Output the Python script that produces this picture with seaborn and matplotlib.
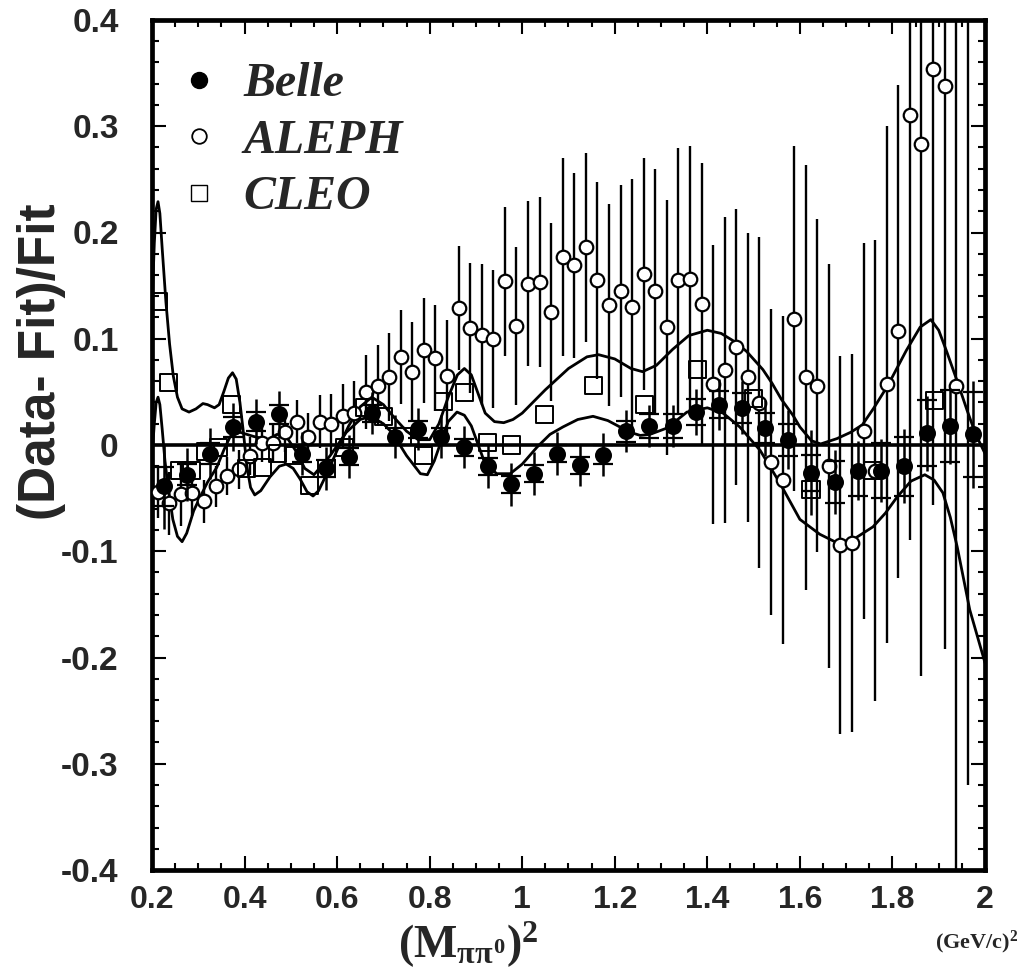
import numpy as np
import pandas as pd
import matplotlib
matplotlib.use("Agg")
import matplotlib.pyplot as plt
import seaborn as sns
from matplotlib.lines import Line2D

# ---------------- data ----------------
belle_x = [0.225, 0.275, 0.325, 0.375, 0.425, 0.475, 0.525, 0.575, 0.625, 0.675,
           0.725, 0.775, 0.825, 0.875, 0.925, 0.975, 1.025, 1.075, 1.125, 1.175,
           1.225, 1.275, 1.325, 1.375, 1.425, 1.475, 1.525, 1.575, 1.625, 1.675,
           1.725, 1.775, 1.825, 1.875, 1.925, 1.975]
belle_y = [-0.039, -0.028, -0.008, 0.017, 0.022, 0.029, -0.008, -0.022, -0.011, 0.030,
           0.008, 0.015, 0.008, -0.002, -0.020, -0.037, -0.027, -0.008, -0.019, -0.009,
           0.013, 0.018, 0.018, 0.031, 0.038, 0.035, 0.016, 0.005, -0.026, -0.035,
           -0.024, -0.024, -0.020, 0.011, 0.018, 0.010]
belle_tot = [0.040, 0.025, 0.024, 0.023, 0.021, 0.022, 0.020, 0.020, 0.020, 0.020,
             0.020, 0.020, 0.020, 0.020, 0.020, 0.020, 0.020, 0.020, 0.020, 0.020,
             0.020, 0.020, 0.020, 0.022, 0.024, 0.025, 0.026, 0.028, 0.040, 0.030,
             0.028, 0.030, 0.035, 0.035, 0.036, 0.050]
belle_stat = [0.018, 0.010, 0.010, 0.009, 0.009, 0.009, 0.008, 0.008, 0.008, 0.008,
              0.008, 0.008, 0.008, 0.008, 0.008, 0.008, 0.008, 0.008, 0.008, 0.009,
              0.010, 0.011, 0.011, 0.012, 0.013, 0.014, 0.014, 0.015, 0.017, 0.020,
              0.024, 0.026, 0.028, 0.031, 0.034, 0.040]

aleph_x = [0.2125 + 0.025 * i for i in range(71)]
aleph_y = [-0.044, -0.055, -0.046, -0.045, -0.053, -0.039, -0.029, -0.023, -0.010, 0.002,
           0.002, 0.012, 0.022, 0.008, 0.022, 0.020, 0.027, 0.030, 0.050, 0.056,
           0.064, 0.083, 0.069, 0.089, 0.082, 0.065, 0.129, 0.110, 0.104, 0.100,
           0.154, 0.112, 0.152, 0.153, 0.125, 0.177, 0.169, 0.186, 0.155, 0.132,
           0.145, 0.130, 0.161, 0.145, 0.111, 0.155, 0.156, 0.133, 0.057, 0.071,
           0.092, 0.064, 0.040, -0.016, -0.033, 0.119, 0.064, 0.056, -0.020, -0.094,
           -0.092, 0.013, -0.024, 0.057, 0.107, 0.311, 0.283, 0.354, 0.338, 0.056,
           0.450]
aleph_err = [0.025, 0.030, 0.030, 0.022, 0.020, 0.019, 0.018, 0.018, 0.018, 0.018,
             0.018, 0.019, 0.020, 0.022, 0.025, 0.028, 0.030, 0.030, 0.035, 0.038,
             0.041, 0.044, 0.047, 0.049, 0.050, 0.053, 0.058, 0.061, 0.066, 0.065,
             0.070, 0.074, 0.078, 0.080, 0.084, 0.093, 0.087, 0.089, 0.093, 0.095,
             0.100, 0.120, 0.109, 0.115, 0.120, 0.125, 0.125, 0.132, 0.131, 0.144,
             0.130, 0.136, 0.156, 0.144, 0.154, 0.162, 0.200, 0.157, 0.190, 0.178,
             0.178, 0.177, 0.217, 0.243, 0.232, 0.400, 0.500, 0.410, 0.530, 0.500,
             0.770]

cleo_x = [0.213, 0.235, 0.260, 0.286, 0.315, 0.343, 0.372, 0.405, 0.438, 0.472,
          0.505, 0.541, 0.578, 0.617, 0.660, 0.700, 0.742, 0.786, 0.829, 0.876,
          0.926, 0.976, 1.049, 1.155, 1.265, 1.378, 1.499, 1.624, 1.756, 1.890]
cleo_y = [0.135, 0.059, -0.024, -0.024, -0.006, -0.002, 0.038, -0.022, -0.021, -0.008,
          -0.010, -0.038, -0.022, -0.002, 0.035, 0.027, 0.008, -0.010, 0.041, 0.049,
          0.002, 0.000, 0.029, 0.056, 0.038, 0.071, 0.044, -0.042, -0.024, 0.042]

curve1_x = [0.200, 0.205, 0.209, 0.213, 0.217, 0.222, 0.230, 0.238, 0.246, 0.255,
            0.265, 0.280, 0.295, 0.310, 0.320, 0.335, 0.345, 0.355, 0.365, 0.374,
            0.382, 0.390, 0.398, 0.405, 0.413, 0.422, 0.435, 0.455, 0.475, 0.490,
            0.505, 0.520, 0.535, 0.548, 0.560, 0.580, 0.600, 0.625, 0.650, 0.675,
            0.700, 0.725, 0.750, 0.775, 0.800, 0.820, 0.840, 0.860, 0.875, 0.890,
            0.905, 0.920, 0.940, 0.960, 0.980, 1.000, 1.050, 1.100, 1.140, 1.165,
            1.200, 1.235, 1.260, 1.290, 1.325, 1.360, 1.400, 1.430, 1.460, 1.485,
            1.520, 1.540, 1.560, 1.585, 1.600, 1.625, 1.645, 1.680, 1.710, 1.735,
            1.760, 1.790, 1.830, 1.860, 1.883, 1.900, 1.918, 1.940, 1.961, 1.980,
            2.000]
curve1_y = [0.130, 0.190, 0.222, 0.229, 0.218, 0.185, 0.135, 0.095, 0.065, 0.045,
            0.034, 0.031, 0.034, 0.039, 0.038, 0.035, 0.038, 0.050, 0.063, 0.068,
            0.062, 0.040, 0.010, -0.020, -0.040, -0.047, -0.043, -0.030, -0.020, -0.018,
            -0.022, -0.032, -0.044, -0.048, -0.043, -0.025, -0.005, 0.018, 0.036, 0.045,
            0.038, 0.025, 0.013, 0.005, 0.005, 0.020, 0.045, 0.066, 0.072, 0.066,
            0.048, 0.030, 0.022, 0.021, 0.024, 0.030, 0.052, 0.072, 0.083, 0.085,
            0.081, 0.072, 0.069, 0.075, 0.090, 0.103, 0.108, 0.105, 0.097, 0.088,
            0.071, 0.058, 0.043, 0.028, 0.017, 0.004, 0.001, 0.006, 0.012, 0.019,
            0.035, 0.056, 0.089, 0.111, 0.118, 0.108, 0.087, 0.060, 0.033, 0.010,
            -0.008]

curve2_x = [0.200, 0.205, 0.209, 0.213, 0.217, 0.222, 0.228, 0.235, 0.245, 0.255,
            0.265, 0.275, 0.290, 0.304, 0.320, 0.340, 0.355, 0.369, 0.390, 0.420,
            0.450, 0.470, 0.490, 0.510, 0.530, 0.550, 0.585, 0.620, 0.650, 0.672,
            0.700, 0.720, 0.750, 0.780, 0.795, 0.810, 0.822, 0.840, 0.859, 0.875,
            0.890, 0.905, 0.920, 0.945, 0.974, 1.000, 1.032, 1.060, 1.088, 1.120,
            1.153, 1.185, 1.211, 1.233, 1.255, 1.276, 1.313, 1.356, 1.400, 1.434,
            1.470, 1.514, 1.557, 1.600, 1.643, 1.680, 1.715, 1.758, 1.785, 1.810,
            1.840, 1.870, 1.890, 1.909, 1.925, 1.940, 1.967, 2.000]
curve2_y = [-0.010, 0.020, 0.040, 0.045, 0.038, 0.015, -0.015, -0.040, -0.070, -0.086,
            -0.091, -0.083, -0.062, -0.049, -0.035, -0.021, -0.005, 0.008, 0.012, 0.008,
            0.005, 0.010, 0.008, -0.005, -0.022, -0.028, -0.010, 0.012, 0.024, 0.027,
            0.020, 0.011, -0.010, -0.027, -0.028, -0.015, 0.000, 0.022, 0.031, 0.028,
            0.018, 0.000, -0.018, -0.027, -0.027, -0.018, -0.002, 0.010, 0.017, 0.024,
            0.027, 0.023, 0.017, 0.012, 0.009, 0.010, 0.016, 0.031, 0.035, 0.030,
            0.017, -0.005, -0.036, -0.070, -0.084, -0.092, -0.089, -0.077, -0.064, -0.049,
            -0.034, -0.028, -0.033, -0.045, -0.068, -0.096, -0.155, -0.205]

legend_labels = ["Belle", "ALEPH", "CLEO"]
x_ticks = [0.2, 0.4, 0.6, 0.8, 1.0, 1.2, 1.4, 1.6, 1.8, 2.0]
x_ticklabels = ["0.2", "0.4", "0.6", "0.8", "1", "1.2", "1.4", "1.6", "1.8", "2"]
y_ticks = [-0.4, -0.3, -0.2, -0.1, 0.0, 0.1, 0.2, 0.3, 0.4]
y_ticklabels = ["-0.4", "-0.3", "-0.2", "-0.1", "0", "0.1", "0.2", "0.3", "0.4"]

# ---------------- style ----------------
sns.set_style("ticks")
plt.rcParams['font.family'] = ['Liberation Sans', 'DejaVu Sans']
plt.rcParams['mathtext.fontset'] = 'custom'
plt.rcParams['mathtext.rm'] = 'Liberation Serif:bold'
plt.rcParams['mathtext.it'] = 'Liberation Serif:bold'
plt.rcParams['mathtext.bf'] = 'Liberation Serif:bold'

fig = plt.figure(figsize=(10.24, 9.73), dpi=100)
fig.patch.set_facecolor('white')
ax = fig.add_axes([152 / 1024, 1 - 870 / 973, 833 / 1024, 850 / 973])
ax.set_facecolor('white')

df1 = pd.DataFrame({'x': curve1_x, 'y': curve1_y})
df2 = pd.DataFrame({'x': curve2_x, 'y': curve2_y})
sns.lineplot(data=df1, x='x', y='y', ax=ax, color='black', lw=2.0, sort=False,
             estimator=None, zorder=3)
sns.lineplot(data=df2, x='x', y='y', ax=ax, color='black', lw=2.0, sort=False,
             estimator=None, zorder=3)

ax.axhline(0, color='black', lw=2.6, zorder=2)

# ALEPH
ax.errorbar(aleph_x, aleph_y, yerr=aleph_err, fmt='none', ecolor='black',
            elinewidth=1.7, capsize=0, zorder=4)
dfa = pd.DataFrame({'x': aleph_x, 'y': aleph_y})
sns.scatterplot(data=dfa, x='x', y='y', ax=ax, marker='o', s=95,
                facecolor='white', edgecolor='black', linewidth=1.6, zorder=5)

# CLEO
dfc = pd.DataFrame({'x': cleo_x, 'y': cleo_y})
sns.scatterplot(data=dfc, x='x', y='y', ax=ax, marker='s', s=150,
                facecolor='none', edgecolor='black', linewidth=1.4, zorder=6)

# Belle
ax.errorbar(belle_x, belle_y, yerr=belle_tot, fmt='none', ecolor='black',
            elinewidth=1.8, capsize=0, zorder=7)
ax.errorbar(belle_x, belle_y, yerr=belle_stat, fmt='none', ecolor='black',
            elinewidth=0, capsize=7, capthick=1.6, zorder=7)
dfb = pd.DataFrame({'x': belle_x, 'y': belle_y})
sns.scatterplot(data=dfb, x='x', y='y', ax=ax, marker='o', s=150,
                color='black', edgecolor='black', linewidth=0, zorder=8)

# legend
handles = [Line2D([], [], ls='none', marker='o', ms=11.5, mfc='black', mec='black'),
           Line2D([], [], ls='none', marker='o', ms=10.5, mfc='white', mec='black', mew=1.3),
           Line2D([], [], ls='none', marker='s', ms=11, mfc='none', mec='black', mew=1.0)]
ax.legend(handles, legend_labels, loc='upper left', bbox_to_anchor=(0.028, 0.950),
          frameon=False, handlelength=1.0, handletextpad=0.42, labelspacing=0.26,
          borderpad=0.0, borderaxespad=0.0,
          prop={'family': 'Liberation Serif', 'weight': 'bold', 'style': 'italic', 'size': 34.5})

# axes
ax.set_xlim(0.2, 2.0)
ax.set_ylim(-0.4, 0.4)
ax.set_xticks(x_ticks)
ax.set_xticklabels(x_ticklabels)
ax.set_yticks(y_ticks)
ax.set_yticklabels(y_ticklabels)
ax.set_xticks(np.arange(0.25, 2.0, 0.05), minor=True)
ax.set_yticks(np.arange(-0.38, 0.4, 0.02), minor=True)
ax.tick_params(which='both', direction='in', top=True, right=True, color='black')
ax.tick_params(which='major', length=10, width=1.5)
ax.tick_params(axis='y', which='major', pad=24, labelsize=24)
ax.tick_params(axis='x', which='major', pad=11, labelsize=23)
ax.tick_params(which='minor', length=5, width=1.5)
for lab in ax.get_xticklabels() + ax.get_yticklabels():
    lab.set_fontweight('bold')
for sp in ax.spines.values():
    sp.set_linewidth(3.4)
    sp.set_color('black')
ax.set_xlabel('')
ax.set_ylabel('')

fig.text(42 / 1024, 1 - 362 / 973, '(Data- Fit)/Fit', rotation=90, ha='center', va='center',
         fontsize=37, fontweight='bold', family='Liberation Sans')
fig.text(468 / 1024, 1 - 958 / 973, r'$\mathrm{(M}_{\pi\pi^{0}}\mathrm{)}^{2}$',
         ha='center', va='baseline', fontsize=33)
fig.text(977 / 1024, 1 - 948 / 973, r'$\mathrm{(GeV/c)}^{2}$',
         ha='center', va='baseline', fontsize=16)

fig.savefig('out.png', dpi=100, facecolor='white')
